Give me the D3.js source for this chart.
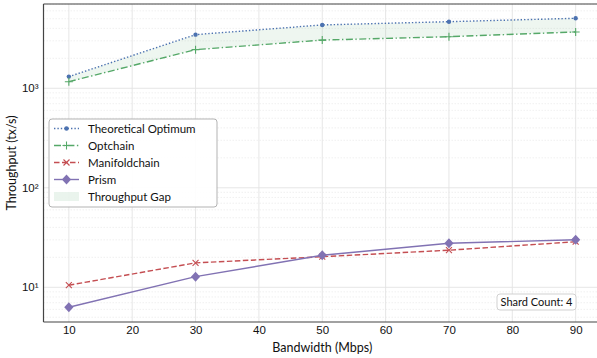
<!DOCTYPE html>
<html><head><meta charset="utf-8">
<script src="https://cdn.jsdelivr.net/npm/d3@7"></script>
<style>
html,body{margin:0;padding:0;background:#fff;}
svg{display:block;font-family:Lato,"Open Sans",sans-serif;}
</style></head>
<body><svg id="c" width="597" height="358"></svg>
<script>
const bandwidth = [10, 30, 50, 70, 90];
const theoretical = [1310, 3460, 4330, 4670, 5050];
const optchain = [1165, 2445, 3050, 3300, 3680];
const manifoldchain = [10.5, 17.6, 20.3, 23.6, 28.7];
const prism = [6.3, 12.8, 21.0, 27.7, 30.1];
const xTicks = [10, 20, 30, 40, 50, 60, 70, 80, 90];
const yTicks = [10, 100, 1000];
const seriesNames = ["Theoretical Optimum", "Optchain", "Manifoldchain", "Prism", "Throughput Gap"];

const W = 597, H = 358;
const m = {l: 43.5, r: -4, t: 4, b: 36};
const svg = d3.select("#c");
const x = d3.scaleLinear().domain([6, 94]).range([m.l, W - m.r]);
const y = d3.scaleLog().domain([4.48, 7030]).range([H - m.b, m.t]);

const g = svg.append("g");
// minor grid
const minor = [];
for (let e = 0; e <= 3; e++) for (let k = 2; k <= 9; k++) { const v = k * Math.pow(10, e); if (v > 4.48 && v < 7030) minor.push(v); }
g.selectAll(".mg").data(minor).join("line")
  .attr("x1", m.l).attr("x2", W - m.r).attr("y1", d => y(d)).attr("y2", d => y(d))
  .attr("stroke", "#e6e6e6").attr("stroke-width", 0.6).attr("stroke-dasharray", "1.5,1.5");
// major grid
g.selectAll(".yg").data(yTicks).join("line")
  .attr("x1", m.l).attr("x2", W - m.r).attr("y1", d => y(d)).attr("y2", d => y(d))
  .attr("stroke", "#e3e3e3").attr("stroke-width", 0.9);
g.selectAll(".xg").data(xTicks).join("line")
  .attr("y1", m.t).attr("y2", H - m.b).attr("x1", d => x(d)).attr("x2", d => x(d))
  .attr("stroke", "#e3e3e3").attr("stroke-width", 0.9);

// fill gap
const area = d3.area().x((d, i) => x(bandwidth[i])).y0((d, i) => y(optchain[i])).y1(d => y(d));
g.append("path").datum(theoretical).attr("d", area).attr("fill", "#55a868").attr("fill-opacity", 0.1);

const line = d3.line().x((d, i) => x(bandwidth[i])).y(d => y(d));
const series = [
  {name: seriesNames[0], data: theoretical, color: "#4c72b0", dash: "1.4,2", marker: "circle", w: 1.4},
  {name: seriesNames[1], data: optchain, color: "#55a868", dash: "7,2.5,1.4,2.5", marker: "plus", w: 1.4},
  {name: seriesNames[2], data: manifoldchain, color: "#c44e52", dash: "5.5,2.5", marker: "x", w: 1.4},
  {name: seriesNames[3], data: prism, color: "#8172b3", dash: null, marker: "diamond", w: 1.4}
];
function drawMarker(sel, type, color) {
  if (type === "circle") sel.append("circle").attr("r", 2.2).attr("fill", color);
  else if (type === "plus") sel.append("path").attr("d", "M-4,0H4M0,-4V4").attr("stroke", color).attr("stroke-width", 1.1);
  else if (type === "x") sel.append("path").attr("d", "M-3,-3L3,3M-3,3L3,-3").attr("stroke", color).attr("stroke-width", 1.1);
  else if (type === "diamond") sel.append("path").attr("d", "M0,-5L4.6,0L0,5L-4.6,0Z").attr("fill", color);
}
series.forEach(s => {
  g.append("path").datum(s.data).attr("d", line).attr("fill", "none").attr("stroke", s.color)
    .attr("stroke-width", s.w).attr("stroke-dasharray", s.dash);
  s.data.forEach((d, i) => {
    const mk = g.append("g").attr("transform", `translate(${x(bandwidth[i])},${y(d)})`);
    drawMarker(mk, s.marker, s.color);
  });
});

// spines
g.append("line").attr("x1", m.l).attr("x2", m.l).attr("y1", m.t).attr("y2", H - m.b).attr("stroke", "#444").attr("stroke-width", 1.2);
g.append("line").attr("x1", m.l).attr("x2", W - m.r).attr("y1", H - m.b).attr("y2", H - m.b).attr("stroke", "#444").attr("stroke-width", 1.2);
g.append("line").attr("x1", m.l).attr("x2", W - m.r).attr("y1", m.t).attr("y2", m.t).attr("stroke", "#444").attr("stroke-width", 1.2);

// axes
const xAxis = svg.append("g").attr("transform", `translate(0,${H - m.b})`)
  .call(d3.axisBottom(x).tickValues(xTicks).tickSize(0).tickPadding(4).tickFormat(d3.format("d")));
xAxis.select(".domain").remove();
xAxis.selectAll("text").attr("font-size", 11.5).attr("fill", "#111");
const sup = {"1": "¹", "2": "²", "3": "³"};
const yAxis = svg.append("g").attr("transform", `translate(${m.l},0)`)
  .call(d3.axisLeft(y).tickValues(yTicks).tickSize(0).tickPadding(5).tickFormat(d => "10" + sup[String(Math.round(Math.log10(d)))]));
yAxis.select(".domain").remove();
yAxis.selectAll("text").attr("font-size", 11.5).attr("fill", "#111");

svg.append("text").attr("x", (m.l + W - m.r) / 2).attr("y", 351.5).attr("text-anchor", "middle")
  .attr("font-size", 12.5).attr("fill", "#111").text("Bandwidth (Mbps)");
svg.append("text").attr("transform", `translate(16,${(m.t + H - m.b) / 2}) rotate(-90)`).attr("text-anchor", "middle")
  .attr("font-size", 12.5).attr("fill", "#111").text("Throughput (tx/s)");

// legend
const lg = svg.append("g").attr("transform", "translate(49,119)");
lg.append("rect").attr("width", 168).attr("height", 88).attr("rx", 3).attr("fill", "#fff").attr("fill-opacity", 0.9)
  .attr("stroke", "#aaa").attr("stroke-width", 0.9);
series.forEach((s, i) => {
  const yy = 9.5 + i * 17;
  lg.append("line").attr("x1", 5).attr("x2", 30).attr("y1", yy).attr("y2", yy).attr("stroke", s.color)
    .attr("stroke-width", s.w).attr("stroke-dasharray", s.dash);
  const mk = lg.append("g").attr("transform", `translate(17.5,${yy})`);
  drawMarker(mk, s.marker, s.color);
  lg.append("text").attr("x", 39).attr("y", yy + 4).attr("font-size", 11.5).attr("fill", "#111").text(s.name);
});
lg.append("rect").attr("x", 5).attr("y", 9.5 + 4 * 17 - 4.5).attr("width", 25).attr("height", 9)
  .attr("fill", "#55a868").attr("fill-opacity", 0.12);
lg.append("text").attr("x", 39).attr("y", 9.5 + 4 * 17 + 4).attr("font-size", 11.5).attr("fill", "#111").text(seriesNames[4]);

// annotation
const an = svg.append("g").attr("transform", "translate(497,294)");
an.append("rect").attr("width", 79).attr("height", 16).attr("rx", 3).attr("fill", "#fff")
  .attr("stroke", "#ccc").attr("stroke-width", 0.9);
an.append("text").attr("x", 39.5).attr("y", 12).attr("text-anchor", "middle").attr("font-size", 11).attr("fill", "#111").text("Shard Count: 4");
</script></body></html>
